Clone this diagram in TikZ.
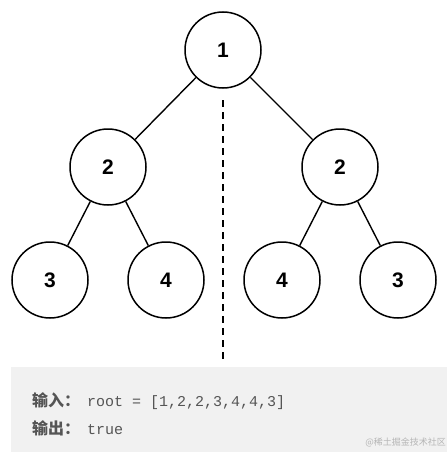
\documentclass[tikz,border=0pt]{standalone}
\usepackage{fontspec}
\setmainfont{Liberation Sans}
\setmonofont{Liberation Mono}
\newfontfamily\cjk{Noto Sans CJK SC}
\usetikzlibrary{positioning}

\definecolor{boxgray}{HTML}{F1F1F1}
\definecolor{codegray}{HTML}{555555}
\definecolor{markgray}{HTML}{B5B5B5}

\newcommand{\cjklabel}[1]{{\fontsize{16}{18}\selectfont\cjk\bfseries #1}\hspace{7pt}}

\begin{document}
\begin{tikzpicture}[
  x=1pt, y=-1pt,
  tn/.style={circle, draw=black, line width=1.5pt, minimum size=76pt, inner sep=0pt,
    font=\fontsize{21}{24}\selectfont\bfseries},
  edge/.style={line width=1.4pt},
  mirror/.style={line width=2pt, dash pattern=on 7pt off 5pt},
  codeline/.style={anchor=west, inner sep=0pt, text=codegray, font=\fontsize{15}{18}\selectfont\ttfamily},
]

\useasboundingbox (0,0) rectangle (447,452);

% ---- output box ----
\fill[boxgray] (11,367) rectangle (447,452);

% ---- tree nodes ----
\node[tn] (r)   at (223,50)  {1};
\node[tn] (l)   at (108,167) {2};
\node[tn] (rr)  at (340,167) {2};
\node[tn] (ll)  at (50,280)  {3};
\node[tn] (lr)  at (166,280) {4};
\node[tn] (rl)  at (282,280) {4};
\node[tn] (rrr) at (398,280) {3};

% ---- edges ----
\draw[edge] (r) -- (l);
\draw[edge] (r) -- (rr);
\draw[edge] (l) -- (ll);
\draw[edge] (l) -- (lr);
\draw[edge] (rr) -- (rl);
\draw[edge] (rr) -- (rrr);

% ---- symmetry axis ----
\coordinate (axtop) at (223,100);
\coordinate (axbot) at (223,360);
\draw[mirror] (axtop) -- (axbot);

% ---- example text ----
\node[codeline] (in)  at (32,401) {\cjklabel{输入：}root = [1,2,2,3,4,4,3]};
\node[codeline] (out) at (32,428) {\cjklabel{输出：}true};
\node[anchor=east, inner sep=0pt, text=markgray, font=\fontsize{9}{10}\selectfont\cjk] (wm)
  at (446,442) {@稀土掘金技术社区};

\end{tikzpicture}
\end{document}
